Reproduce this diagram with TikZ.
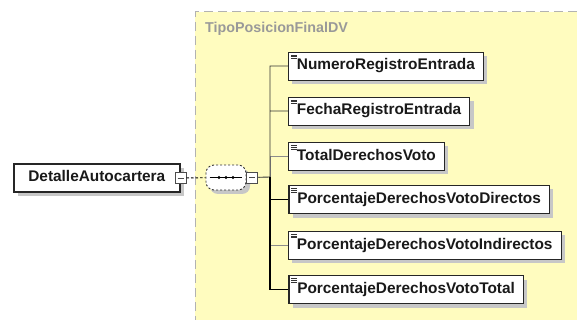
\documentclass[tikz,border=0pt]{standalone}
\usepackage{fontspec}
\setmainfont{Liberation Sans}
\usetikzlibrary{shapes.misc, shadows, positioning}

\tikzset{
  shade/.style={drop shadow={shadow xshift=4pt, shadow yshift=-4pt, fill=black!22, opacity=1}},
  elem/.style={draw=black!85, line width=0.9pt, fill=white, shade, anchor=west,
    font=\bfseries\fontsize{15.4}{18}\selectfont, text=black!90,
    text height=11pt, text depth=3pt, inner xsep=8.5pt, minimum height=28pt},
  leaf/.style={elem, path picture={
    \foreach \k in {3,4.8,6.6}
      \draw[black!80, line width=0.6pt] ([xshift=2.5pt,yshift=-\k pt]path picture bounding box.north west) -- +(6pt,0);}},
  must/.style={line width=1.5pt},
  minus/.style={draw=black!70, fill=white, line width=0.8pt, minimum size=11pt, inner sep=0pt,
    path picture={\draw[black!70, line width=0.8pt] ([xshift=2.5pt]path picture bounding box.west) -- ([xshift=-2.5pt]path picture bounding box.east);}},
  seqbox/.style={rectangle, rounded corners=8pt,
    draw=black!80, dash pattern=on 2pt off 2pt, line width=0.9pt, fill=white, shade,
    minimum width=40pt, minimum height=25pt, inner sep=0pt},
  link/.style={draw=black!80, line width=0.9pt},
  optlink/.style={draw=black!45, line width=0.8pt},
  mustlink/.style={draw=black, line width=1.6pt},
}

\begin{document}
\begin{tikzpicture}[x=1pt, y=-1pt]
    \useasboundingbox (0,0) rectangle (577,320);

    % complex type area
    \fill[yellow!25] (195,12) rectangle (577,320);
    \draw[black!30, line width=1pt, dash pattern=on 9pt off 5pt] (577,12) -- (195,12) -- (195,320);
    \node[anchor=west, inner sep=0pt, text=black!40, font=\bfseries\fontsize{14.3}{17}\selectfont] (tipo) at (205,29) {TipoPosicionFinalDV};

    \node[elem, line width=1.6pt, minimum width=166pt, inner xsep=12pt] (detalle) at (13,178) {DetalleAutocartera};
    \node[minus] (detminus) at (detalle.east) {};

    \node[seqbox] (seq) at (226,177.5) {};
    \draw[black, line width=0.9pt] ([xshift=4pt]seq.west) -- ([xshift=-4pt]seq.east);
    \foreach \d in {-7,0,7}
      \fill[black] ([xshift=\d pt]seq.center) circle (1.6pt);
    \node[minus] (seqminus) [right=0pt of seq] {};

    \node[leaf] (n1) at (288,66) {NumeroRegistroEntrada};
    \node[leaf] (n2) at (288,111) {FechaRegistroEntrada};
    \node[leaf] (n3) at (288,156.5) {TotalDerechosVoto};
    \node[leaf, must] (n4) at (288,199.5) {PorcentajeDerechosVotoDirectos};
    \node[leaf] (n5) at (288,245) {PorcentajeDerechosVotoIndirectos};
    \node[leaf, must] (n6) at (288,289.5) {PorcentajeDerechosVotoTotal};

    \coordinate (fork) at (270,177);

    \draw[black, line width=0.9pt, dash pattern=on 2.5pt off 2pt] (detminus) -- (seq);
    \path[optlink] (fork) |- (n3) (fork) |- (n5);
    \path[link] (seqminus) -- (fork) (fork) |- (n1) (fork) |- (n2);
    \path[mustlink] (fork) |- (n4) (fork) |- (n6);
\end{tikzpicture}
\end{document}
